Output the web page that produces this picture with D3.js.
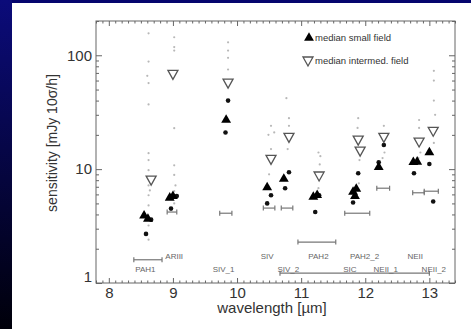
<!DOCTYPE html>
<html>
<head>
<meta charset="utf-8">
<script src="https://cdn.jsdelivr.net/npm/d3@7"></script>
<style>
  body { margin: 0; background: #fff; }
  svg { display: block; font-family: "Liberation Sans", Arial, sans-serif; }
  .axis path, .axis line { stroke: #666; }
  .axis text { fill: #333; font-size: 15px; }
  .flabel { fill: #666; font-size: 8px; }
</style>
</head>
<body>
<div id="chart"></div>
<script>
// median small field (filled triangles)
const smallWl  = [8.55, 8.61, 8.95, 9.00, 9.83, 10.47, 10.73, 11.19, 11.25, 11.81, 11.84, 11.86, 12.21, 12.75, 12.81, 13.00];
const smallVal = [3.9, 3.65, 5.6, 5.8, 27, 6.9, 8.2, 5.7, 5.9, 6.3, 5.8, 6.7, 10.4, 11.5, 11.6, 14.0];

// median intermediate field (open triangles)
const intermWl  = [8.66, 9.00, 9.86, 10.53, 10.81, 11.28, 11.89, 11.92, 12.29, 12.84, 13.06];
const intermVal = [8.0, 68, 57, 12.2, 19.0, 8.7, 18.0, 14.4, 19.0, 17.3, 21.5];

// single measurements (black dots)
const dotWl  = [8.58, 8.66, 8.97, 9.06, 9.86, 9.82, 10.53, 10.47, 10.75, 10.81, 11.28, 11.22, 11.81, 11.89, 12.21, 12.29, 12.76, 13.00, 13.06];
const dotVal = [2.7, 3.6, 4.5, 5.8, 40, 21, 5.9, 5.0, 6.8, 9.4, 5.9, 4.2, 5.1, 9.2, 11.5, 16.3, 9.2, 11.1, 5.2];

// individual frames (grey dots)
const grayWl  = [8.62, 8.62, 8.62, 8.60, 8.62, 8.62, 8.62, 8.62, 8.62, 8.64, 8.62, 8.62, 8.62, 8.62,
                 9.02, 9.02, 9.02, 9.02, 9.02, 9.02, 9.04, 9.02, 9.02,
                 9.86, 9.86, 9.86, 9.86,
                 10.53, 10.58, 10.49, 10.53, 10.50,
                 10.77, 10.81, 10.81, 10.79,
                 11.27, 11.30, 11.29, 11.27,
                 11.89, 11.88, 11.91, 11.90,
                 12.29, 12.30, 12.27,
                 12.84, 12.84, 12.86, 12.83,
                 13.07, 13.07, 13.07, 13.09, 13.07];
const grayVal = [156, 88, 57, 66, 37, 13.8, 12, 9.8, 7.2, 6.5, 5.9, 4.8, 3.2, 2.4,
                 144, 118, 110, 22.9, 10.8, 8.9, 7.2, 6.4, 5.0,
                 130, 110, 95, 75,
                 24, 21, 20, 15, 9.0,
                 42, 28, 24, 15,
                 14, 13, 11, 6.8,
                 28, 23, 12, 7.5,
                 24, 14, 12.5,
                 27, 23, 14, 12.5,
                 73, 60, 40, 30, 17];

// filter widths (horizontal bars)
const barLo = [8.39, 8.91, 9.73, 10.41, 10.69, 10.95, 11.68, 12.18, 12.74, 12.92, 10.67];
const barHi = [8.83, 9.06, 9.92, 10.59, 10.87, 11.54, 12.07, 12.38, 12.92, 13.14, 13.00];
const barY  = [1.6, 4.2, 4.1, 4.55, 4.55, 2.29, 4.1, 6.8, 6.2, 6.4, 1.22];

// filter names
const labelText = ["PAH1", "ARIII", "SIV_1", "SIV", "SIV_2", "PAH2", "SIC", "PAH2_2", "NEII_1", "NEII", "NEII_2"];
const labelWl   = [8.57, 9.02, 9.79, 10.47, 10.80, 11.27, 11.76, 11.99, 12.32, 12.78, 13.07];
const labelRow  = [1, 0, 1, 0, 1, 0, 1, 0, 1, 0, 1];

const xMajor = [8, 9, 10, 11, 12, 13];
const yMajor = [1, 10, 100];

const width = 471, height = 329;

const svg = d3.select("#chart").append("svg")
    .attr("width", width)
    .attr("height", height);

// blue slide border
const grad = svg.append("defs").append("linearGradient")
    .attr("id", "side")
    .attr("x1", 0).attr("y1", 0).attr("x2", 0).attr("y2", 1);
grad.append("stop").attr("offset", "0%").attr("stop-color", "#0b0b7a");
grad.append("stop").attr("offset", "100%").attr("stop-color", "#00000a");

svg.append("rect").attr("x", 0).attr("y", 0).attr("width", width).attr("height", 3).attr("fill", "#05056e");
svg.append("rect").attr("x", 0).attr("y", 0).attr("width", 12).attr("height", height).attr("fill", "url(#side)");

const x = d3.scaleLinear().domain([7.8, 13.4]).range([96, 455]);
const y = d3.scaleLog().domain([1, 200]).range([283, 21]);

const xMinor = d3.range(78, 135).map(d => d / 10).filter(d => d % 1 !== 0);
const yMinor = [];
[1, 10, 100].forEach(function (dec) {
    for (let k = 2; k <= 9; k++) if (dec * k <= 200) yMinor.push(dec * k);
});

// frame
svg.append("rect")
    .attr("x", x.range()[0]).attr("y", y.range()[1])
    .attr("width", x.range()[1] - x.range()[0])
    .attr("height", y.range()[0] - y.range()[1])
    .attr("fill", "none").attr("stroke", "#666");

function addAxis(axis, tx, ty, labels) {
    const g = svg.append("g").attr("class", "axis")
        .attr("transform", "translate(" + tx + "," + ty + ")")
        .call(axis);
    g.select(".domain").remove();
    if (!labels) g.selectAll("text").remove();
    return g;
}

// bottom / top
addAxis(d3.axisBottom(x).tickValues(xMajor).tickSize(-5).tickPadding(4).tickFormat(d3.format("d")), 0, 283, true);
addAxis(d3.axisBottom(x).tickValues(xMinor).tickSize(-2.5), 0, 283, false);
addAxis(d3.axisTop(x).tickValues(xMajor).tickSize(-5), 0, 21, false);
addAxis(d3.axisTop(x).tickValues(xMinor).tickSize(-2.5), 0, 21, false);

// left / right
const yl = addAxis(d3.axisLeft(y).tickValues(yMajor).tickSize(-6).tickPadding(4).tickFormat(d3.format("d")), 96, 0, true);
yl.selectAll(".tick text").attr("y", d => d === 1 ? -6 : 0);
addAxis(d3.axisLeft(y).tickValues(yMinor).tickSize(-3), 96, 0, false);
addAxis(d3.axisRight(y).tickValues(yMajor).tickSize(-6), 455, 0, false);
addAxis(d3.axisRight(y).tickValues(yMinor).tickSize(-3), 455, 0, false);

// axis titles
svg.append("text")
    .attr("x", 272).attr("y", 313)
    .attr("text-anchor", "middle")
    .attr("fill", "#333").style("font-size", "15px")
    .text("wavelength [\u00b5m]");

svg.append("text")
    .attr("transform", "translate(57,143) rotate(-90)")
    .attr("text-anchor", "middle")
    .attr("fill", "#333").style("font-size", "14px")
    .text("sensitivity [mJy 10\u03c3/h]");

// filter width bars
const bars = svg.append("g").attr("stroke", "#777").attr("stroke-width", 1.2);
barLo.forEach(function (lo, i) {
    const yy = y(barY[i]), x0 = x(lo), x1 = x(barHi[i]);
    bars.append("line").attr("x1", x0).attr("x2", x1).attr("y1", yy).attr("y2", yy);
    bars.append("line").attr("x1", x0).attr("x2", x0).attr("y1", yy - 2.5).attr("y2", yy + 2.5);
    bars.append("line").attr("x1", x1).attr("x2", x1).attr("y1", yy - 2.5).attr("y2", yy + 2.5);
});

// filter names
svg.append("g").selectAll("text")
    .data(labelText)
    .enter().append("text")
    .attr("class", "flabel")
    .attr("x", (d, i) => x(labelWl[i]))
    .attr("y", (d, i) => labelRow[i] ? 272 : 259)
    .attr("text-anchor", "middle")
    .text(d => d);

// grey individual points
svg.append("g").selectAll("circle")
    .data(grayWl)
    .enter().append("circle")
    .attr("cx", d => x(d))
    .attr("cy", (d, i) => y(grayVal[i]))
    .attr("r", 1.1)
    .attr("fill", "#b8b8b8");

// black dots
svg.append("g").selectAll("circle")
    .data(dotWl)
    .enter().append("circle")
    .attr("cx", d => x(d))
    .attr("cy", (d, i) => y(dotVal[i]))
    .attr("r", 2.3)
    .attr("fill", "#111");

const triUp = d3.symbol().type(d3.symbolTriangle).size(42);
const triDown = "M-5,-4L5,-4L0,5Z";

// median small field
svg.append("g").selectAll("path")
    .data(smallWl)
    .enter().append("path")
    .attr("d", triUp)
    .attr("transform", (d, i) => "translate(" + x(d) + "," + y(smallVal[i]) + ")")
    .attr("fill", "#000");

// median intermediate field
svg.append("g").selectAll("path")
    .data(intermWl)
    .enter().append("path")
    .attr("d", triDown)
    .attr("transform", (d, i) => "translate(" + x(d) + "," + y(intermVal[i]) + ")")
    .attr("fill", "none")
    .attr("stroke", "#555")
    .attr("stroke-width", 1.3);

// legend
svg.append("path").attr("d", triUp).attr("transform", "translate(309,38)").attr("fill", "#000");
svg.append("text").attr("x", 315).attr("y", 41).attr("fill", "#333").style("font-size", "9.5px")
    .text("median small field");
svg.append("path").attr("d", triDown).attr("transform", "translate(308,61)")
    .attr("fill", "none").attr("stroke", "#555").attr("stroke-width", 1.3);
svg.append("text").attr("x", 315).attr("y", 64).attr("fill", "#333").style("font-size", "9.5px")
    .text("median intermed. field");
</script>
</body>
</html>
